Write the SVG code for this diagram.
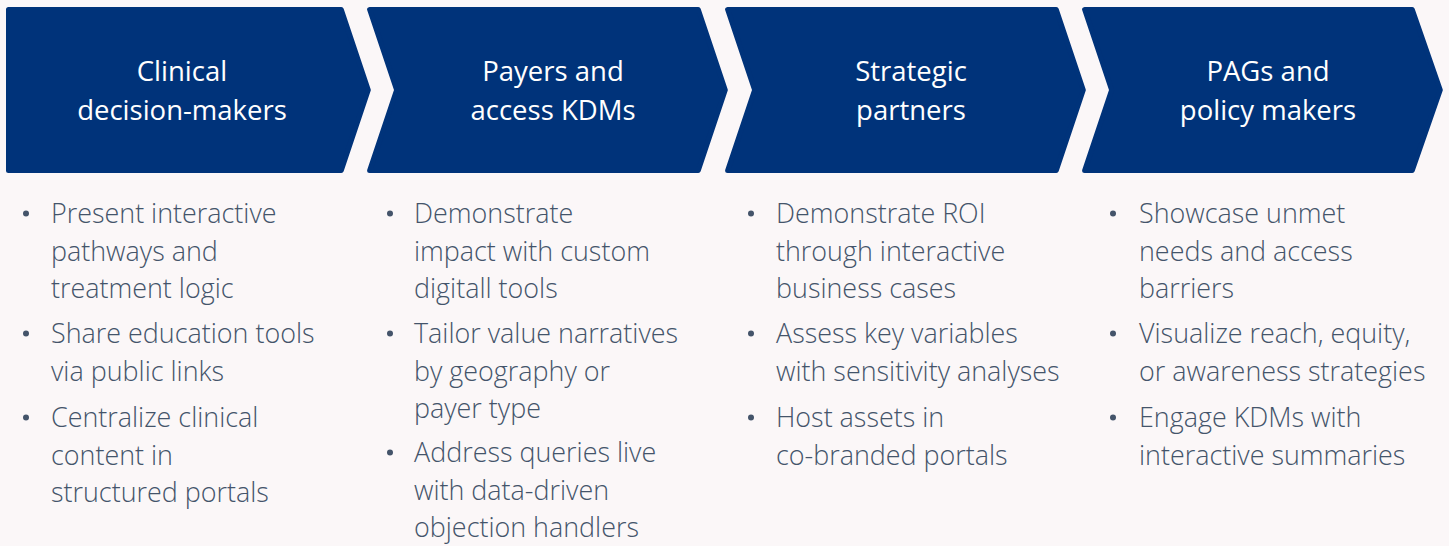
<svg xmlns="http://www.w3.org/2000/svg" width="1449" height="546" viewBox="0 0 1449 546">
<style>
.bg{fill:#fbf7f8}
.chev{fill:#00337a;stroke:#00337a;stroke-width:5;stroke-linejoin:round}
.title{font-family:"Open Sans","Noto Sans","Liberation Sans",sans-serif;font-weight:400;font-size:27.5px;fill:#ffffff;text-anchor:middle}
.item{font-family:"Open Sans","Noto Sans","Liberation Sans",sans-serif;font-weight:300;font-size:26.9px;fill:#44546a}
.dot{fill:#44546a}
</style>
<rect class="bg" x="0" y="0" width="1449" height="546"/>
<g id="connectors"></g>
<g id="node-clinical">
<polygon class="chev" points="8.5,9.5 341.3,9.5 368.3,90 341.3,170.5 8.5,170.5"/>
<text class="title" x="182" y="81">Clinical</text>
<text class="title" x="182" y="120">decision-makers</text>
</g>
<g id="node-payers">
<polygon class="chev" points="369.6,9.5 698.3,9.5 725.3,90 698.3,170.5 369.6,170.5 396.6,90"/>
<text class="title" x="553" y="81">Payers and</text>
<text class="title" x="553" y="120">access KDMs</text>
</g>
<g id="node-partners">
<polygon class="chev" points="727.6,9.5 1056.3,9.5 1083.3,90 1056.3,170.5 727.6,170.5 754.6,90"/>
<text class="title" x="911" y="81">Strategic</text>
<text class="title" x="911" y="120">partners</text>
</g>
<g id="node-pags">
<polygon class="chev" points="1084.6,9.5 1412.3,9.5 1440.3,90 1412.3,170.5 1084.6,170.5 1111.6,90"/>
<text class="title" x="1268" y="81">PAGs and</text>
<text class="title" x="1268" y="120">policy makers</text>
</g>
<g id="list-clinical">
<circle class="dot" cx="26" cy="213.5" r="3"/>
<circle class="dot" cx="26" cy="333.5" r="3"/>
<circle class="dot" cx="26" cy="417.5" r="3"/>
<text class="item" x="51" y="223">Present interactive</text>
<text class="item" x="51" y="260.5">pathways and</text>
<text class="item" x="51" y="298">treatment logic</text>
<text class="item" x="51" y="343">Share education tools</text>
<text class="item" x="51" y="380.5">via public links</text>
<text class="item" x="51" y="427">Centralize clinical</text>
<text class="item" x="51" y="464.5">content in</text>
<text class="item" x="51" y="502">structured portals</text>
</g>
<g id="list-payers">
<circle class="dot" cx="390" cy="213.5" r="3"/>
<circle class="dot" cx="390" cy="333.5" r="3"/>
<circle class="dot" cx="390" cy="452.5" r="3"/>
<text class="item" x="414" y="223">Demonstrate</text>
<text class="item" x="414" y="260.5">impact with custom</text>
<text class="item" x="414" y="298">digitall tools</text>
<text class="item" x="414" y="343">Tailor value narratives</text>
<text class="item" x="414" y="380.5">by geography or</text>
<text class="item" x="414" y="418">payer type</text>
<text class="item" x="414" y="462">Address queries live</text>
<text class="item" x="414" y="499.5">with data-driven</text>
<text class="item" x="414" y="537">objection handlers</text>
</g>
<g id="list-partners">
<circle class="dot" cx="751" cy="213.5" r="3"/>
<circle class="dot" cx="751" cy="333.5" r="3"/>
<circle class="dot" cx="751" cy="417.5" r="3"/>
<text class="item" x="776" y="223">Demonstrate ROI</text>
<text class="item" x="776" y="260.5">through interactive</text>
<text class="item" x="776" y="298">business cases</text>
<text class="item" x="776" y="343">Assess key variables</text>
<text class="item" x="776" y="380.5">with sensitivity analyses</text>
<text class="item" x="776" y="427">Host assets in</text>
<text class="item" x="776" y="464.5">co-branded portals</text>
</g>
<g id="list-pags">
<circle class="dot" cx="1113" cy="213.5" r="3"/>
<circle class="dot" cx="1113" cy="333.5" r="3"/>
<circle class="dot" cx="1113" cy="417.5" r="3"/>
<text class="item" x="1139" y="223">Showcase unmet</text>
<text class="item" x="1139" y="260.5">needs and access</text>
<text class="item" x="1139" y="298">barriers</text>
<text class="item" x="1139" y="343">Visualize reach, equity,</text>
<text class="item" x="1139" y="380.5">or awareness strategies</text>
<text class="item" x="1139" y="427">Engage KDMs with</text>
<text class="item" x="1139" y="464.5">interactive summaries</text>
</g>
</svg>
